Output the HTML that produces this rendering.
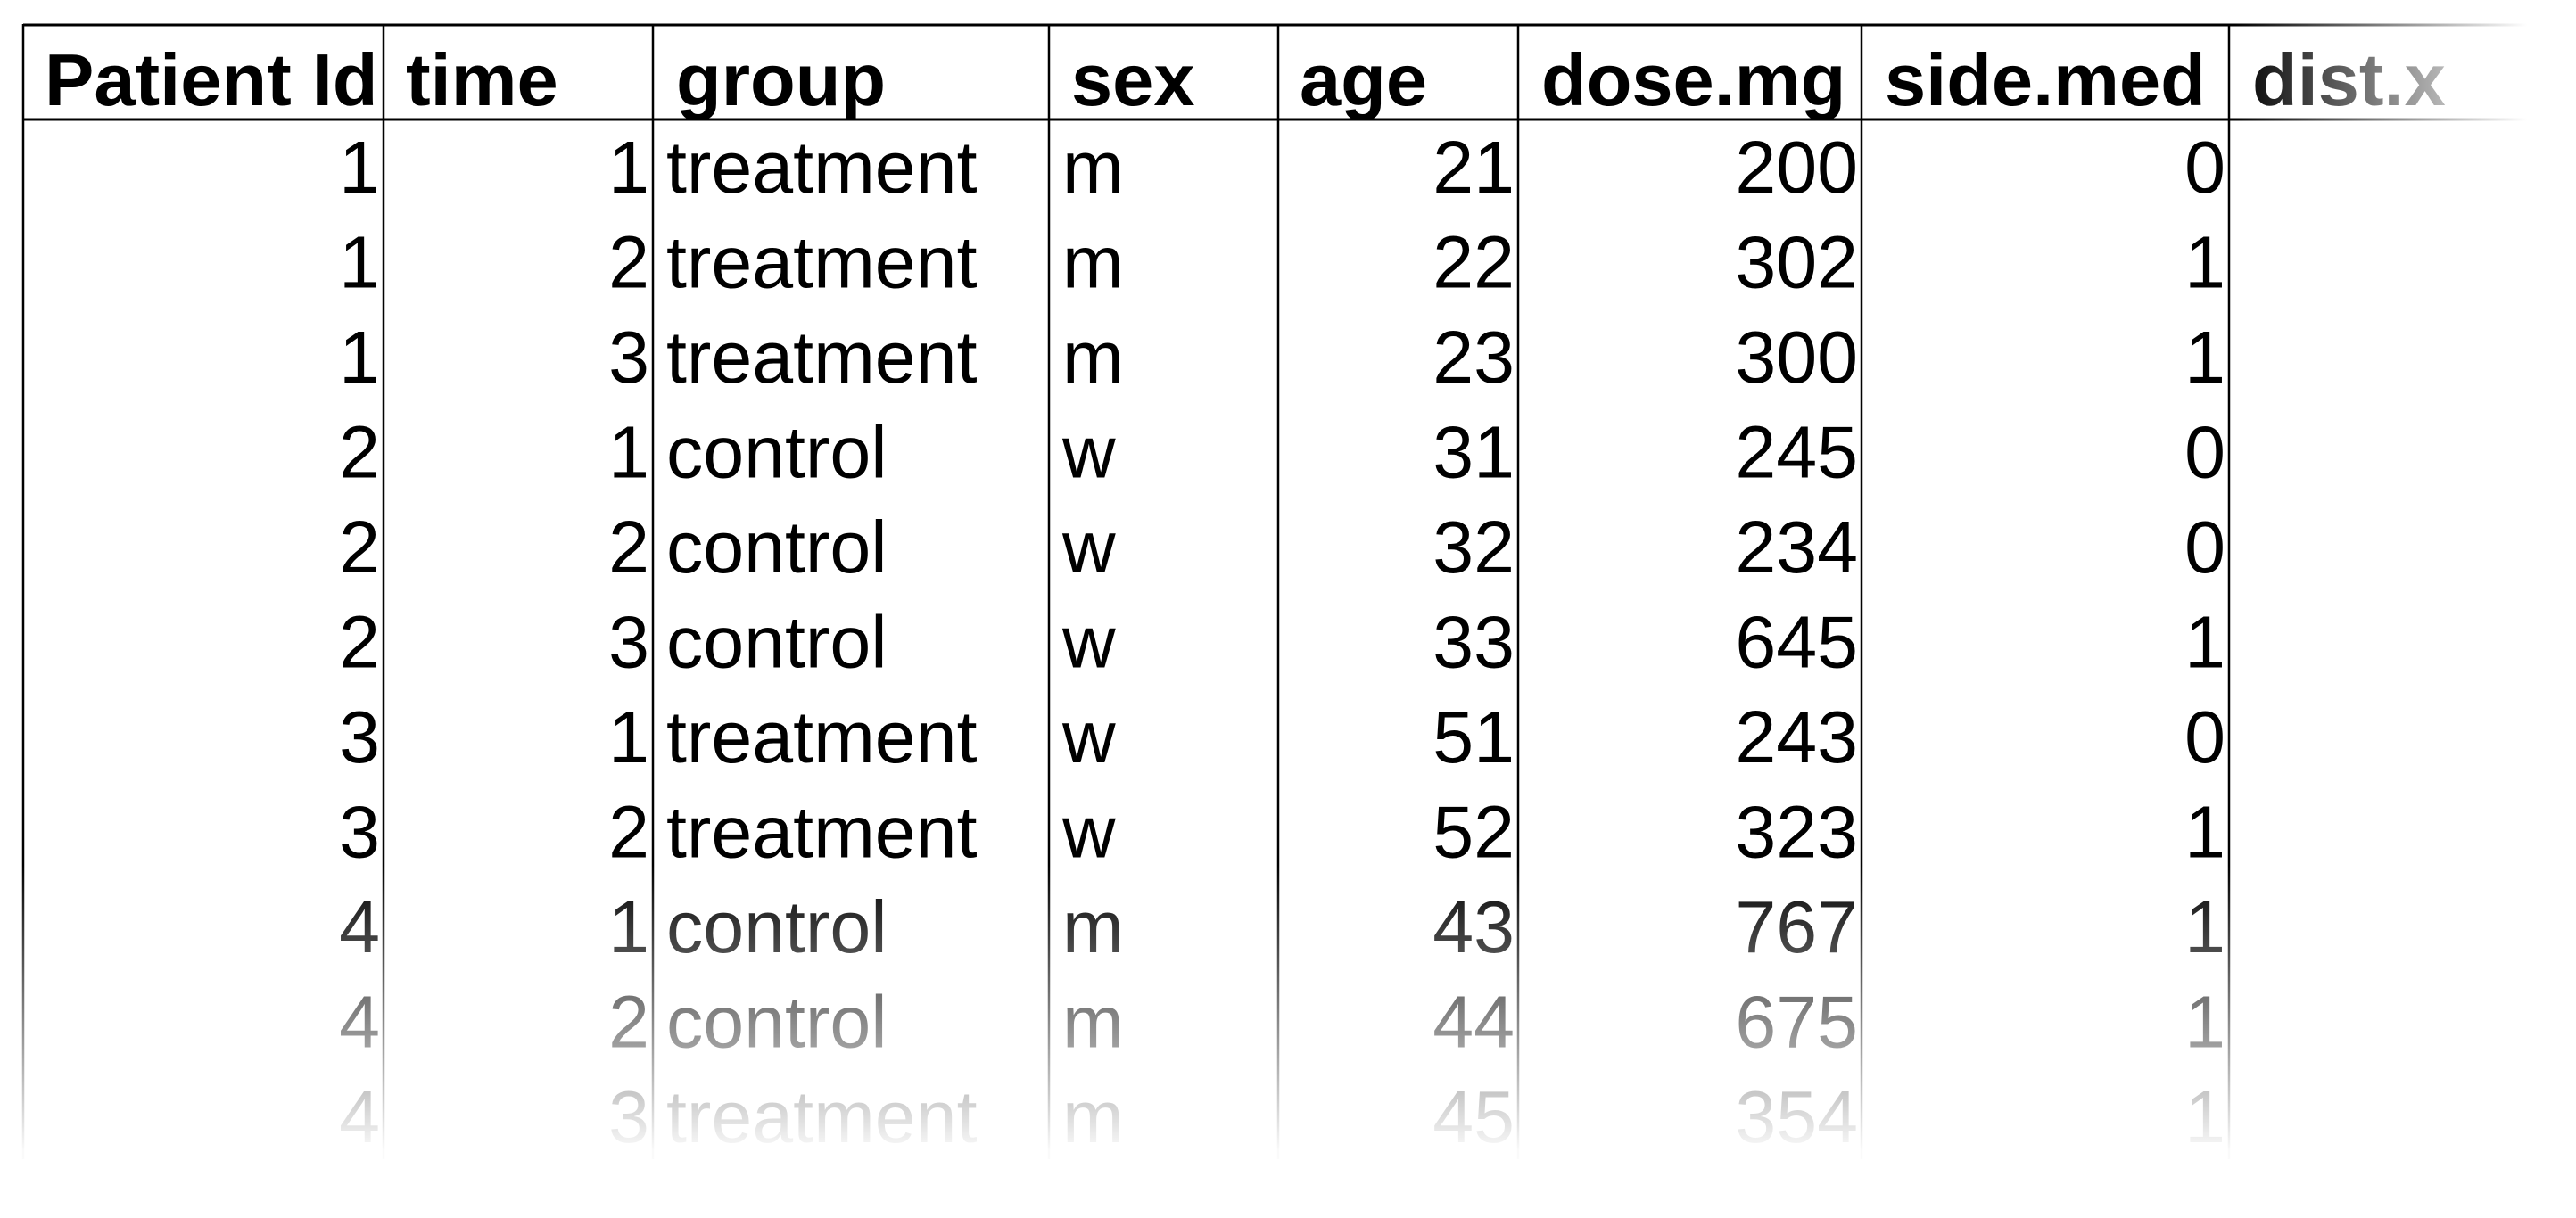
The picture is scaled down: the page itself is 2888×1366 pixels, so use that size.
<!DOCTYPE html>
<html><head><meta charset="utf-8">
<style>
html,body{margin:0;padding:0;background:#fff;}
#wrap{position:relative;width:2888px;height:1366px;overflow:hidden;background:#fff;}
svg{position:absolute;left:0;top:0;}
.fadeB{position:absolute;left:0;top:970px;width:2888px;height:396px;background:linear-gradient(to bottom,rgba(255,255,255,0) 0px,rgba(255,255,255,0.98) 320px,#fff 396px);}
.fadeR{position:absolute;left:2505px;top:0;width:383px;height:1366px;background:linear-gradient(to right,rgba(255,255,255,0) 0px,rgba(255,255,255,1) 328px,#fff 383px);}
</style></head>
<body>
<div id="wrap">
<svg id="tbl" width="2888" height="1366" xmlns="http://www.w3.org/2000/svg"></svg>
<div class="fadeB"></div>
<div class="fadeR"></div>
</div>
<script>
const headers = ["Patient Id","time","group","sex","age","dose.mg","side.med","dist.x"];
const patientIds = [1,1,1,2,2,2,3,3,4,4,4];
const times = [1,2,3,1,2,3,1,2,1,2,3];
const groups = ["treatment","treatment","treatment","control","control","control","treatment","treatment","control","control","treatment"];
const sexes = ["m","m","m","w","w","w","w","w","m","m","m"];
const ages = [21,22,23,31,32,33,51,52,43,44,45];
const doses = [200,302,300,245,234,645,243,323,767,675,354];
const sideMeds = [0,1,1,0,0,1,0,1,1,1,1];

const NS="http://www.w3.org/2000/svg";
const svg=document.getElementById('tbl');
const borders=[26,430,732,1176,1433,1702,2087,2499];
const colNames=["patient-id","time","group","sex","age","dose-mg","side-med","dist-x"];
const headerX=[50,455,758,1201,1457,1728,2113,2525];
const rightAlign=[true,true,false,false,true,true,true,false];
const cols=[patientIds,times,groups,sexes,ages,doses,sideMeds];
const rowBase=216, rowStep=106.5, headBase=118;
function rowY(i){return rowBase+i*rowStep;}

function line(x1,y1,x2,y2,w,name){
  const l=document.createElementNS(NS,'line');
  l.setAttribute('x1',x1);l.setAttribute('y1',y1);l.setAttribute('x2',x2);l.setAttribute('y2',y2);
  l.setAttribute('stroke','#000');l.setAttribute('stroke-width',w);
  
  
  svg.appendChild(l);
}
line(26,28,2888,28,3,'table-top-border');
line(26,134,2888,134,3,'header-bottom-border');
borders.forEach((x,i)=>{line(x,27,x,1300,2.5,'column-border');});

headers.forEach((h,i)=>{
  const t=document.createElementNS(NS,'text');
  t.setAttribute('x',headerX[i]);t.setAttribute('y',headBase);
  t.setAttribute('font-family','Liberation Sans, sans-serif');
  t.setAttribute('font-size','83');t.setAttribute('font-weight','bold');
  t.textContent=h;
  
  
  svg.appendChild(t);
});

cols.forEach((arr,c)=>{
  arr.forEach((v,r)=>{
    const t=document.createElementNS(NS,'text');
    if(rightAlign[c]){t.setAttribute('x',borders[c+1]-4);t.setAttribute('text-anchor','end');}
    else{t.setAttribute('x',borders[c]+15);}
    t.setAttribute('y',rowY(r));
    t.setAttribute('font-family','Liberation Sans, sans-serif');
    t.setAttribute('font-size','82.5');
    t.textContent=String(v);
    
    
    svg.appendChild(t);
  });
});
</script>
</body></html>
